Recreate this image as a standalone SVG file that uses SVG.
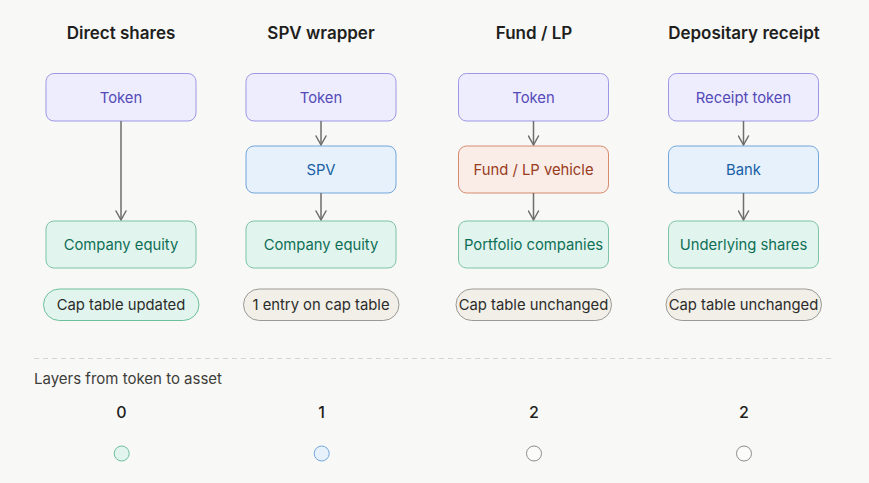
<svg xmlns="http://www.w3.org/2000/svg" width="869" height="483" viewBox="0 0 869 483">
<defs>
<marker id="ah" viewBox="0 0 12 12" refX="10" refY="6" markerWidth="12" markerHeight="12" markerUnits="userSpaceOnUse" orient="auto">
<path d="M1,1 L10,6 L1,11" fill="none" stroke="#6e6e6c" stroke-width="1.5" stroke-linecap="round" stroke-linejoin="round"/>
</marker>
</defs>
<style>
text{font-family:Inter,"Noto Sans","Liberation Sans",sans-serif}
.title{font-size:17px;font-weight:600;fill:#1f1f1d;text-anchor:middle}
.lbl{font-size:14.8px;text-anchor:middle}
.purple rect{fill:#eeedfe;stroke:#9d97e6;stroke-width:1}
.purple text{fill:#534ab7}
.blue rect{fill:#e6f1fb;stroke:#73a6dc;stroke-width:1}
.blue text{fill:#185fa5}
.coral rect{fill:#faece7;stroke:#d68a6e;stroke-width:1}
.coral text{fill:#993c1d}
.green rect{fill:#e1f5ee;stroke:#7cc4a5;stroke-width:1}
.green text{fill:#0f6e56}
.pill rect{fill:#f1efe8;stroke:#9a9994;stroke-width:1}
.pill text{fill:#2c2c2a}
.gpill rect{fill:#e1f5ee;stroke:#6dbf9c;stroke-width:1}
.gpill text{fill:#2c2c2a}
.conn line{stroke:#6e6e6c;stroke-width:1.5;marker-end:url(#ah)}
.num{font-size:16px;font-weight:500;fill:#1f1f1d;text-anchor:middle}
</style>
<rect width="869" height="483" fill="#f8f8f6"/>
<text class="title" x="121" y="39">Direct shares</text>
<text class="title" x="321" y="39">SPV wrapper</text>
<text class="title" x="534" y="39">Fund / LP</text>
<text class="title" x="744" y="39">Depositary receipt</text>

<g id="c1-token" class="purple"><rect x="46" y="73.5" width="150" height="47.5" rx="8"/><text class="lbl" x="121" y="102.5">Token</text></g>
<g id="c1-equity" class="green"><rect x="46" y="221" width="150" height="47" rx="8"/><text class="lbl" x="121" y="250">Company equity</text></g>
<g id="c1-pill" class="gpill"><rect x="43.5" y="289" width="155.5" height="31.5" rx="15.75"/><text class="lbl" x="121" y="310">Cap table updated</text></g>

<g id="c2-token" class="purple"><rect x="246" y="73.5" width="150" height="47.5" rx="8"/><text class="lbl" x="321" y="102.5">Token</text></g>
<g id="c2-spv" class="blue"><rect x="246" y="146" width="150" height="47" rx="8"/><text class="lbl" x="321" y="175">SPV</text></g>
<g id="c2-equity" class="green"><rect x="246" y="221" width="150" height="47" rx="8"/><text class="lbl" x="321" y="250">Company equity</text></g>
<g id="c2-pill" class="pill"><rect x="243.5" y="289" width="155.5" height="31.5" rx="15.75"/><text class="lbl" x="321" y="310">1 entry on cap table</text></g>

<g id="c3-token" class="purple"><rect x="458.5" y="73.5" width="150" height="47.5" rx="8"/><text class="lbl" x="533.5" y="102.5">Token</text></g>
<g id="c3-fund" class="coral"><rect x="458.5" y="146" width="150" height="47" rx="8"/><text class="lbl" x="533.5" y="175">Fund / LP vehicle</text></g>
<g id="c3-portfolio" class="green"><rect x="458.5" y="221" width="150" height="47" rx="8"/><text class="lbl" x="533.5" y="250">Portfolio companies</text></g>
<g id="c3-pill" class="pill"><rect x="456" y="289" width="155.5" height="31.5" rx="15.75"/><text class="lbl" x="533.5" y="310">Cap table unchanged</text></g>

<g id="c4-token" class="purple"><rect x="668.5" y="73.5" width="150" height="47.5" rx="8"/><text class="lbl" x="743.5" y="102.5">Receipt token</text></g>
<g id="c4-bank" class="blue"><rect x="668.5" y="146" width="150" height="47" rx="8"/><text class="lbl" x="743.5" y="175">Bank</text></g>
<g id="c4-shares" class="green"><rect x="668.5" y="221" width="150" height="47" rx="8"/><text class="lbl" x="743.5" y="250">Underlying shares</text></g>
<g id="c4-pill" class="pill"><rect x="666" y="289" width="155.5" height="31.5" rx="15.75"/><text class="lbl" x="743.5" y="310">Cap table unchanged</text></g>

<g id="connectors" class="conn">
<line x1="121" y1="121" x2="121" y2="220"/>
<line x1="321" y1="121" x2="321" y2="145"/>
<line x1="321" y1="193" x2="321" y2="220"/>
<line x1="533.5" y1="121" x2="533.5" y2="145"/>
<line x1="533.5" y1="193" x2="533.5" y2="220"/>
<line x1="743.5" y1="121" x2="743.5" y2="145"/>
<line x1="743.5" y1="193" x2="743.5" y2="220"/>
</g>

<line x1="34" y1="358.5" x2="834" y2="358.5" stroke="#d6d5d0" stroke-width="1" stroke-dasharray="5 4"/>
<text x="34" y="384" font-size="15" fill="#3d3d3a">Layers from token to asset</text>
<text class="num" x="121.5" y="418">0</text>
<text class="num" x="321.5" y="418">1</text>
<text class="num" x="534" y="418">2</text>
<text class="num" x="744" y="418">2</text>
<circle cx="121.7" cy="453.5" r="7.5" fill="#e1f5ee" stroke="#6dbf9c" stroke-width="1"/>
<circle cx="321.7" cy="453.5" r="7.5" fill="#e6f1fb" stroke="#73a6dc" stroke-width="1"/>
<circle cx="534" cy="453.5" r="7.5" fill="#fbfbf9" stroke="#8e8d88" stroke-width="1"/>
<circle cx="744" cy="453.5" r="7.5" fill="#fbfbf9" stroke="#8e8d88" stroke-width="1"/>
</svg>
